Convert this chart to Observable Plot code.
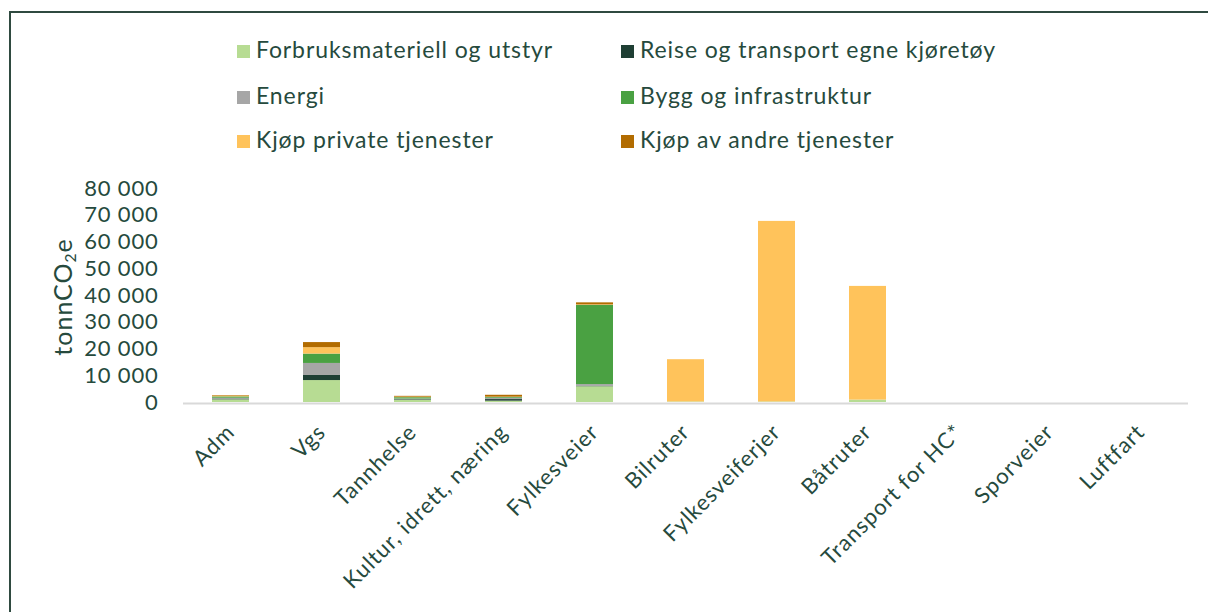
<!DOCTYPE html>
<html><head><meta charset="utf-8">
<script src="https://cdn.jsdelivr.net/npm/d3@7"></script>
<script src="https://cdn.jsdelivr.net/npm/@observablehq/plot@0.6"></script>
<style>
body{margin:0;background:#fff;font-family:Lato,sans-serif;color:#264a3d;width:1208px;height:612px;overflow:hidden;position:relative;}
#frame{position:absolute;left:9px;top:11px;width:1210px;height:610px;border-top:2px solid #2f4a40;border-left:2px solid #2f4a40;}
.leg{position:absolute;font-size:23px;letter-spacing:0.9px;white-space:nowrap;line-height:24px;height:24px;transform:translateY(-50%);}
.sw{display:inline-block;width:13px;height:13px;margin-right:6px;vertical-align:0px;}
#chart{position:absolute;left:0;top:170px;}
#chart svg g[aria-label="y-axis tick label"] text{letter-spacing:0.8px;}
#chart svg g[aria-label="x-axis tick label"] text{letter-spacing:1px;}
#ylab{position:absolute;left:62px;top:297px;font-size:25px;letter-spacing:1px;white-space:nowrap;transform:translate(-50%,-50%) rotate(-90deg);}
#ylab sub{font-size:0.62em;vertical-align:-0.25em;line-height:0;}
</style></head>
<body>
<div id="frame"></div>
<div id="legend"></div>
<div id="ylab">tonnCO<sub>2</sub>e</div>
<div id="chart"></div>
<script>
const categories = ["Adm","Vgs","Tannhelse","Kultur, idrett, næring","Fylkesveier","Bilruter","Fylkesveiferjer","Båtruter","Transport for HC*","Sporveier","Luftfart"];
const series = ["Forbruksmateriell og utstyr","Reise og transport egne kjøretøy","Energi","Bygg og infrastruktur","Kjøp private tjenester","Kjøp av andre tjenester"];
const colors = ["#b7dc93","#1f3f34","#a6a6a6","#4aa142","#ffc35b","#b26c00"];
const forbruks = [1000, 8200, 900, 500, 5900, 200, 200, 900, 0, 0, 0];
const reise    = [300, 1900, 200, 600, 100, 0, 0, 0, 0, 0, 0];
const energi   = [300, 4500, 200, 500, 700, 0, 0, 0, 0, 0, 0];
const bygg     = [500, 3500, 500, 300, 29600, 0, 0, 0, 0, 0, 0];
const privat   = [300, 2400, 200, 100, 200, 15800, 67500, 42500, 0, 0, 0];
const andre    = [200, 1900, 300, 700, 750, 0, 0, 0, 0, 0, 0];
const yTicks = [0,10000,20000,30000,40000,50000,60000,70000,80000];

const values = [forbruks, reise, energi, bygg, privat, andre];
const data = [];
series.forEach((s, si) => categories.forEach((c, ci) => data.push({cat: c, series: s, value: values[si][ci]})));

// legend
const legPos = [[237,49],[621,49],[237,95],[621,95],[237,139],[621,139]];
const leg = document.getElementById("legend");
series.forEach((s, si) => {
  const d = document.createElement("div");
  d.className = "leg";
  d.style.left = legPos[si][0] + "px";
  d.style.top = legPos[si][1] + "px";
  const sw = document.createElement("span");
  sw.className = "sw";
  sw.style.background = colors[si];
  d.appendChild(sw);
  d.appendChild(document.createTextNode(s));
  leg.appendChild(d);
});

const fmt = d => d3.format(",")(d).replace(/,/g, " ");

const chart = Plot.plot({
  width: 1208, height: 442,
  marginLeft: 183, marginRight: 20, marginTop: 18, marginBottom: 210,
  style: {fontFamily: "Lato, sans-serif", color: "#264a3d", background: "transparent", overflow: "visible"},
  x: {domain: categories, paddingInner: 0.59, paddingOuter: 0.295, label: null},
  y: {domain: [0, 80000], label: null},
  color: {domain: series, range: colors},
  marks: [
    Plot.ruleY([0], {stroke: "#d9d9d9", strokeWidth: 2, dy: 1}),
    Plot.barY(data, {x: "cat", y: "value", fill: "series", order: series}),
    Plot.axisY({ticks: yTicks, tickFormat: fmt, tickSize: 0, tickPadding: 25, fontSize: 22, label: null}),
    Plot.axisX({tickSize: 0, tickRotate: -45, tickPadding: 26, dx: 0, fontSize: 22, label: null})
  ]
});
document.getElementById("chart").appendChild(chart);
</script>
</body></html>
